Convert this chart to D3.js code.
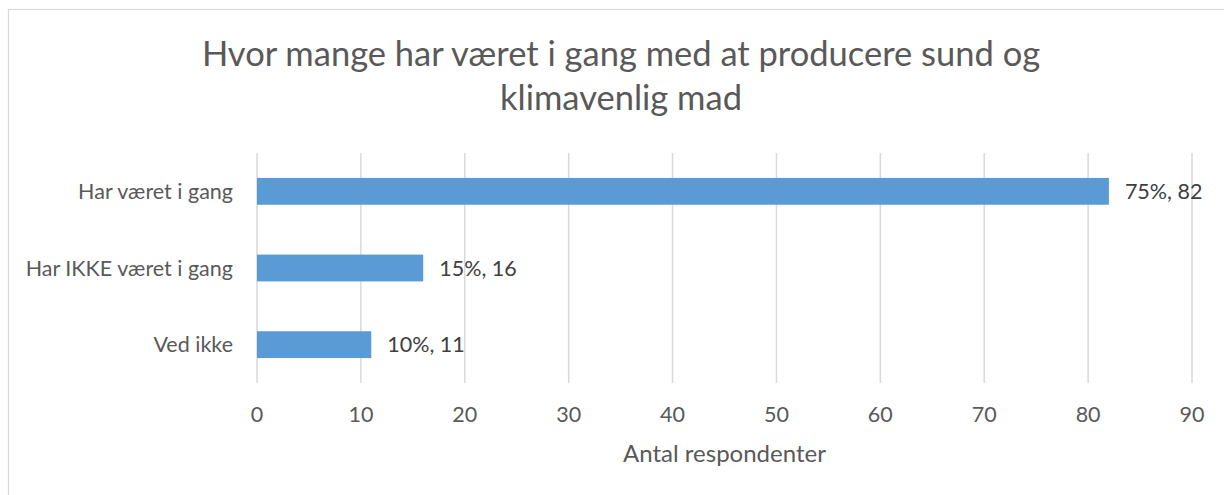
<!DOCTYPE html>
<meta charset="utf-8">
<style>
body { margin: 0; background: #fff; }
text { font-family: Lato, "Open Sans", sans-serif; fill: #595959; }
.grid line { stroke: #d9d9d9; stroke-width: 1.5; }
.bar { fill: #5b9bd5; }
.label { fill: #404040; }
</style>
<svg width="1224" height="495"></svg>
<script src="https://cdn.jsdelivr.net/npm/d3@7"></script>
<script>

var categories = ["Har været i gang", "Har IKKE været i gang", "Ved ikke"],
    counts = [82, 16, 11],
    percents = [75, 15, 10],
    ticks = [0, 10, 20, 30, 40, 50, 60, 70, 80, 90];

var titleLines = ["Hvor mange har været i gang med at producere sund og", "klimavenlig mad"],
    axisTitle = "Antal respondenter";

var svg = d3.select("svg");

var margin = {left: 257, right: 1192, top: 153, bottom: 383};

// chart border (right/bottom run off the picture)
svg.append("rect")
    .attr("x", 8.5)
    .attr("y", 9.5)
    .attr("width", 1230)
    .attr("height", 500)
    .attr("fill", "#fff")
    .attr("stroke", "#d9d9d9")
    .attr("stroke-width", 1.2);

var x = d3.scaleLinear().domain([0, 90]).range([margin.left, margin.right]);

var y = d3.scaleBand()
    .domain(categories)
    .range([margin.top, margin.bottom])
    .paddingInner(0.65)
    .paddingOuter(0.325);

svg.append("g")
    .attr("class", "grid")
  .selectAll("line")
    .data(ticks)
  .enter().append("line")
    .attr("x1", function(d) { return x(d); })
    .attr("x2", function(d) { return x(d); })
    .attr("y1", margin.top)
    .attr("y2", margin.bottom);

svg.append("g")
  .selectAll("text")
    .data(ticks)
  .enter().append("text")
    .attr("x", function(d) { return x(d); })
    .attr("y", 422)
    .attr("text-anchor", "middle")
    .style("font-size", "21.5px")
    .text(function(d) { return d; });

svg.append("g")
  .selectAll("text")
    .data(categories)
  .enter().append("text")
    .attr("x", 233)
    .attr("y", function(d) { return y(d) + y.bandwidth() / 2; })
    .attr("dy", ".35em")
    .attr("text-anchor", "end")
    .style("font-size", "21.5px")
    .text(function(d) { return d; });

svg.append("g")
  .selectAll("rect")
    .data(categories)
  .enter().append("rect")
    .attr("class", "bar")
    .attr("x", x(0))
    .attr("y", function(d) { return y(d); })
    .attr("width", function(d, i) { return x(counts[i]) - x(0); })
    .attr("height", y.bandwidth());

svg.append("g")
  .selectAll("text")
    .data(categories)
  .enter().append("text")
    .attr("class", "label")
    .attr("x", function(d, i) { return x(counts[i]) + 16; })
    .attr("y", function(d) { return y(d) + y.bandwidth() / 2; })
    .attr("dy", ".35em")
    .style("font-size", "21.5px")
    .text(function(d, i) { return percents[i] + "%, " + counts[i]; });

svg.append("g")
  .selectAll("text")
    .data(titleLines)
  .enter().append("text")
    .attr("x", 621)
    .attr("y", function(d, i) { return 66 + i * 44; })
    .attr("text-anchor", "middle")
    .style("font-size", "34.5px")
    .text(function(d) { return d; });

svg.append("text")
    .attr("x", (margin.left + margin.right) / 2)
    .attr("y", 462)
    .attr("text-anchor", "middle")
    .style("font-size", "24px")
    .text(axisTitle);

</script>
